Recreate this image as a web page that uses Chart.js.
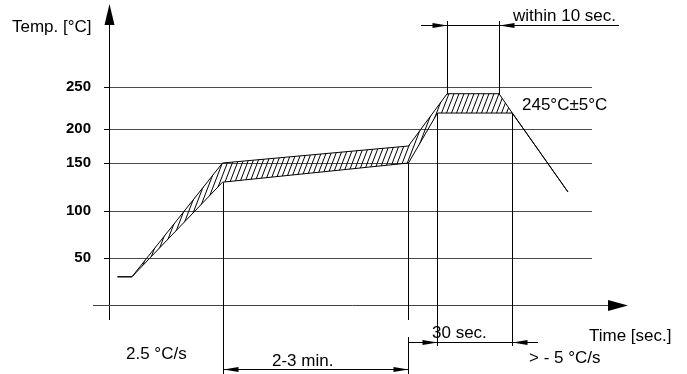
<!DOCTYPE html>
<html><head><meta charset="utf-8">
<script src="https://cdn.jsdelivr.net/npm/chart.js@4/dist/chart.umd.min.js"></script>
<style>html,body{margin:0;padding:0;background:#fff;}canvas{display:block}</style>
</head><body>
<canvas id="c" width="687" height="374" style="width:687px;height:374px"></canvas>
<script>
// ---- data (temperatures in °C, time in s, read from the schematic) ----
const tempTicks  = [50, 100, 150, 200, 250];
const upperTimes = [7, 19, 94, 248, 280, 323, 334, 380];
const upperTemps = [30, 30, 150, 175, 242, 242, 219, 120];
const lowerTimes = [7, 19, 94, 248, 272, 334, 380];
const lowerTemps = [30, 30, 130, 150, 219, 219, 120];
const preheatEnd = 94, soakEnd = 248, reflowStart = 272, reflowEnd = 334, peakStart = 280, peakEnd = 323;
const preheatLow = 130, soakLow = 150, reflowTemp = 219, peakTemp = 242;

const FONT = '"Liberation Sans", Arial, sans-serif';

// schematic (not-to-scale) temperature axis: piecewise-linear scale
class ProfileScale extends Chart.LinearScale {
  warp(t) {
    const T = this.options.anchorTemps, V = this.options.anchorSpan;
    let i = 0;
    while (i < T.length - 2 && t > T[i + 1]) i++;
    return V[i] + (t - T[i]) * (V[i + 1] - V[i]) / (T[i + 1] - T[i]);
  }
  unwarp(v) {
    const T = this.options.anchorTemps, V = this.options.anchorSpan;
    let i = 0;
    while (i < V.length - 2 && v > V[i + 1]) i++;
    return T[i] + (v - V[i]) * (T[i + 1] - T[i]) / (V[i + 1] - V[i]);
  }
  getPixelForValue(value) {
    const a = this.warp(this.min), b = this.warp(this.max);
    return this.getPixelForDecimal((this.warp(value) - a) / (b - a));
  }
  getValueForPixel(pixel) {
    const a = this.warp(this.min), b = this.warp(this.max);
    return this.unwarp(a + this.getDecimalForPixel(pixel) * (b - a));
  }
}
ProfileScale.id = 'profile';
ProfileScale.defaults = Chart.LinearScale.defaults;
Chart.register(ProfileScale);

function hatchPattern() {
  const c = document.createElement('canvas');
  const w = 5, h = 13;
  c.width = w; c.height = h;
  const g = c.getContext('2d');
  g.strokeStyle = '#000'; g.lineWidth = 1;
  for (const dx of [-w, 0, w]) {
    g.beginPath(); g.moveTo(dx - 1, h + h / w); g.lineTo(dx + w + 1, -h / w); g.stroke();
  }
  return g.createPattern(c, 'repeat');
}

function seg(g, x1, y1, x2, y2) { g.beginPath(); g.moveTo(x1, y1); g.lineTo(x2, y2); g.stroke(); }
function arrowH(g, tipX, y, dir) {
  const len = 15, hw = 2.5;
  g.beginPath(); g.moveTo(tipX, y); g.lineTo(tipX - dir * len, y - hw); g.lineTo(tipX - dir * len, y + hw); g.closePath(); g.fill();
}

const decor = {
  id: 'decor',
  afterDraw(chart) {
    const g = chart.ctx, xs = chart.scales.x, ys = chart.scales.y, ca = chart.chartArea;
    const X = t => Math.round(xs.getPixelForValue(t)) + 0.5;
    const Y = v => Math.round(ys.getPixelForValue(v)) + 0.5;
    g.save();
    g.lineWidth = 1; g.strokeStyle = '#000'; g.fillStyle = '#000';
    // y axis with arrow
    const ax = Math.round(ca.left) + 0.5;
    seg(g, ax, 320, ax, 22);
    g.beginPath(); g.moveTo(ax, 4); g.lineTo(ax - 5, 25); g.lineTo(ax + 5, 25); g.closePath(); g.fill();
    // x axis with arrow
    const ay = Y(0);
    g.strokeStyle = '#444';
    seg(g, 93, ay, 612, ay);
    g.beginPath(); g.moveTo(628, ay); g.lineTo(608, ay - 5.5); g.lineTo(608, ay + 5.5); g.closePath(); g.fill();
    g.strokeStyle = '#000';
    // within 10 sec
    const yT = 25.5;
    seg(g, 421, yT, 619, yT);
    seg(g, X(peakStart), 21, X(peakStart), Y(peakTemp));
    seg(g, X(peakEnd), 21, X(peakEnd), Y(peakTemp));
    arrowH(g, X(peakStart), yT, 1);
    arrowH(g, X(peakEnd), yT, -1);
    // 30 sec
    const y30 = 342.5;
    seg(g, X(soakEnd), y30, 538, y30);
    seg(g, X(reflowStart), Y(reflowTemp), X(reflowStart), 346);
    seg(g, X(reflowEnd), Y(reflowTemp), X(reflowEnd), 346);
    arrowH(g, X(reflowStart), y30, 1);
    arrowH(g, X(reflowEnd), y30, -1);
    // 2-3 min
    const y23 = 369.5;
    seg(g, X(preheatEnd), y23, X(soakEnd), y23);
    seg(g, X(preheatEnd), Y(preheatLow), X(preheatEnd), 374);
    seg(g, X(soakEnd), Y(soakLow), X(soakEnd), 320);
    seg(g, X(soakEnd), 337, X(soakEnd), 374);
    arrowH(g, X(preheatEnd), y23, -1);
    arrowH(g, X(soakEnd), y23, 1);
    // texts
    g.font = '17px ' + FONT; g.textAlign = 'left'; g.textBaseline = 'alphabetic';
    g.fillText('Temp. [°C]', 12, 32);
    g.fillText('within 10 sec.', 513, 21);
    g.fillText('245°C±5°C', 522, 110);
    g.fillText('Time [sec.]', 589, 341);
    g.fillText('30 sec.', 432, 338);
    g.fillText('> - 5 °C/s', 529, 363);
    g.fillText('2.5 °C/s', 126, 359);
    g.fillText('2-3 min.', 272, 366);
    g.restore();
  }
};

const pts = (ts, vs) => ts.map((t, i) => ({ x: t, y: vs[i] }));

new Chart(document.getElementById('c'), {
  type: 'line',
  data: {
    datasets: [
      { label: 'upper', data: pts(upperTimes, upperTemps), borderColor: '#000', borderWidth: 1,
        pointRadius: 0, tension: 0, fill: '+1', backgroundColor: hatchPattern(), borderJoinStyle: 'round' },
      { label: 'lower', data: pts(lowerTimes, lowerTemps), borderColor: '#000', borderWidth: 1,
        pointRadius: 0, tension: 0, fill: false, borderJoinStyle: 'round' }
    ]
  },
  options: {
    responsive: false, animation: false, events: [],
    layout: { padding: { top: 45, right: 95, bottom: 69, left: 0 } },
    plugins: { legend: { display: false }, tooltip: { enabled: false } },
    scales: {
      x: { type: 'linear', min: 0, max: 400, display: false },
      y: {
        type: 'profile', min: 0, max: 300,
        anchorTemps: [0, 50, 100, 150, 200, 250, 300],
        anchorSpan:  [0, 47, 94, 142, 176, 218, 260],
        afterFit(s) { s.width = 109; },
        afterBuildTicks(s) { s.ticks = tempTicks.map(v => ({ value: v })); },
        border: { display: false },
        grid: { color: '#4a4a4a', lineWidth: 1, tickLength: 5, drawTicks: true, tickColor: '#000' },
        ticks: { color: '#000', padding: 13, font: { family: FONT, size: 15, weight: 'bold' } }
      }
    }
  },
  plugins: [decor]
});
</script>
</body></html>
